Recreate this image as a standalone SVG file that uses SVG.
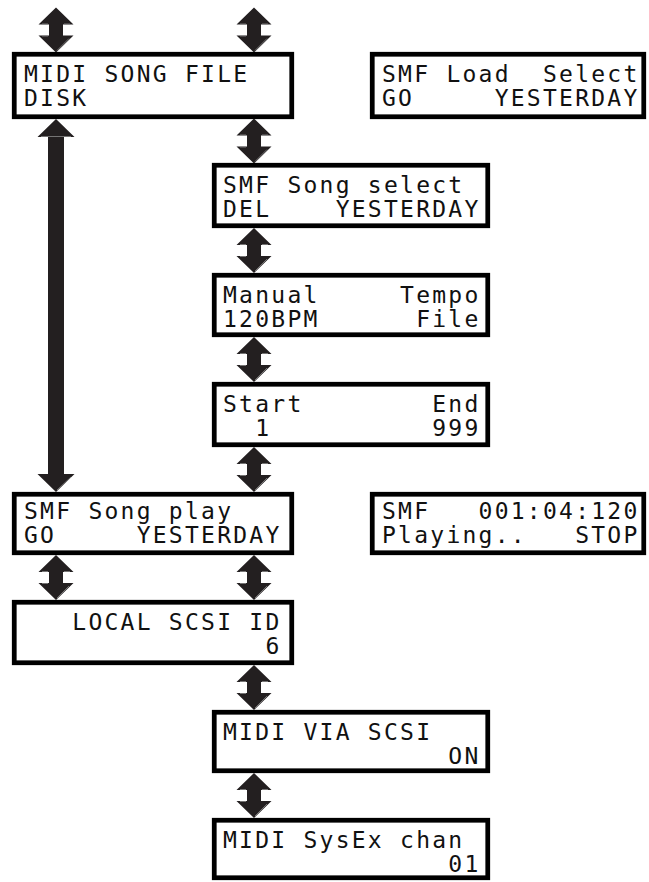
<svg xmlns="http://www.w3.org/2000/svg" width="649" height="882" viewBox="0 0 649 882">
<defs>
<style>
.box rect{fill:#fff;stroke:#000;stroke-width:4.75}
.lcd{font-family:"DejaVu Sans Mono","Liberation Mono",monospace;font-size:23px;letter-spacing:2.25px;fill:#111;white-space:pre}
.arr{fill:#231f20}
.hl{stroke:#8a8a8a;stroke-width:0.8;fill:none}
</style>
<g id="dbl">
<path class="arr" d="M0,0 L17.5,17 L7,17 L7,28 L17.5,28 L0,45 L-17.5,28 L-7,28 L-7,17 L-17.5,17 Z"/>
<path class="hl" d="M-14,16.5 H-8 M8,16.5 H14 M-14,28.5 H-8 M1,43 L13,31"/>
</g>
</defs>
<rect width="649" height="882" fill="#fff"/>
<g id="connectors">
<use href="#dbl" x="56" y="7.5"/>
<use href="#dbl" x="254" y="7.5"/>
<use href="#dbl" x="254" y="118.5"/>
<use href="#dbl" x="254" y="228"/>
<use href="#dbl" x="254" y="337"/>
<use href="#dbl" x="254" y="447"/>
<use href="#dbl" x="56" y="555"/>
<use href="#dbl" x="254" y="555"/>
<use href="#dbl" x="254" y="665"/>
<use href="#dbl" x="254" y="773"/>
<path class="arr" d="M56,119 L74.5,137 L64,137 L64,474 L74.5,474 L56,492 L37.5,474 L48,474 L48,137 L37.5,137 Z"/>
<path class="hl" d="M41,136.5 H71 M57,490 L71,477"/>
</g>
<g id="n1" class="box"><rect x="14.25" y="54.25" width="277.5" height="62.5"/>
<text class="lcd" x="24" y="82">MIDI SONG FILE</text><text class="lcd" x="24" y="106">DISK</text></g>
<g id="n2" class="box"><rect x="372.25" y="54.25" width="271.5" height="62.5"/>
<text class="lcd" x="382" y="82">SMF Load  Select</text><text class="lcd" x="382" y="106">GO     YESTERDAY</text></g>
<g id="n3" class="box"><rect x="214.25" y="165.25" width="273.5" height="60.5"/>
<text class="lcd" x="223" y="193">SMF Song select</text><text class="lcd" x="223" y="217">DEL    YESTERDAY</text></g>
<g id="n4" class="box"><rect x="214.25" y="275.25" width="273.5" height="59.5"/>
<text class="lcd" x="223" y="303">Manual     Tempo</text><text class="lcd" x="223" y="327">120BPM      File</text></g>
<g id="n5" class="box"><rect x="214.25" y="384.25" width="273.5" height="60.5"/>
<text class="lcd" x="223" y="412">Start        End</text><text class="lcd" x="223" y="436">  1          999</text></g>
<g id="n6" class="box"><rect x="14.25" y="494.25" width="277.5" height="58.5"/>
<text class="lcd" x="24" y="519">SMF Song play</text><text class="lcd" x="24" y="543">GO     YESTERDAY</text></g>
<g id="n7" class="box"><rect x="372.25" y="494.25" width="271.5" height="58.5"/>
<text class="lcd" x="382" y="519">SMF   001:04:120</text><text class="lcd" x="382" y="543">Playing..   STOP</text></g>
<g id="n8" class="box"><rect x="14.25" y="602.25" width="277.5" height="60.5"/>
<text class="lcd" x="24" y="630">   LOCAL SCSI ID</text><text class="lcd" x="24" y="654">               6</text></g>
<g id="n9" class="box"><rect x="214.25" y="712.25" width="273.5" height="58.5"/>
<text class="lcd" x="223" y="740">MIDI VIA SCSI</text><text class="lcd" x="223" y="764">              ON</text></g>
<g id="n10" class="box"><rect x="214.25" y="820.25" width="273.5" height="57.5"/>
<text class="lcd" x="223" y="848">MIDI SysEx chan</text><text class="lcd" x="223" y="872">              01</text></g>
</svg>
